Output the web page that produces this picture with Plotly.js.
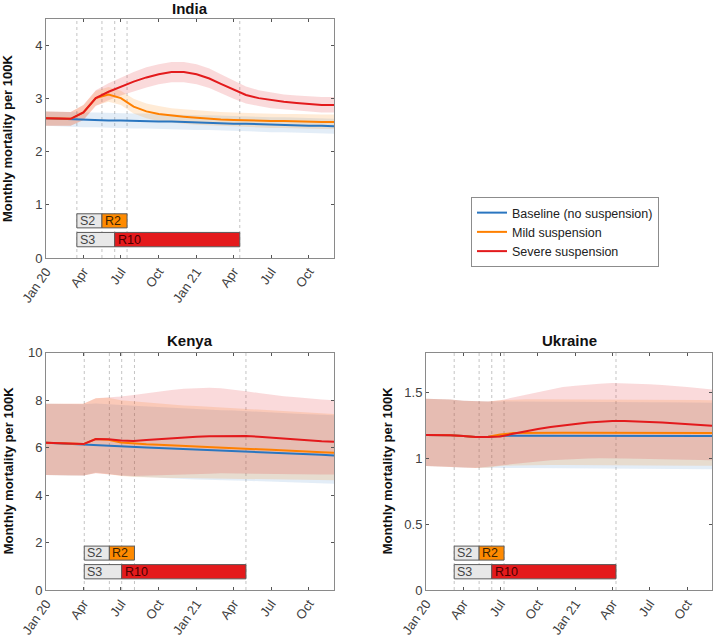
<!DOCTYPE html>
<html><head><meta charset="utf-8">
<script src="https://cdn.plot.ly/plotly-3.0.1.min.js"></script>
<style>html,body{margin:0;padding:0;background:#fff}#chart{width:714px;height:639px}</style>
</head><body><div id="chart"></div>
<script>
// ---------- data ----------
const months = ['2020-01-01','2020-02-01','2020-03-01','2020-04-01','2020-05-01','2020-06-01','2020-07-01','2020-08-01','2020-09-01','2020-10-01','2020-11-01','2020-12-01',
                '2021-01-01','2021-02-01','2021-03-01','2021-04-01','2021-05-01','2021-06-01','2021-07-01','2021-08-01','2021-09-01','2021-10-01','2021-11-01','2021-12-01'];
const tickVals = ['2020-01-01','2020-04-01','2020-07-01','2020-10-01','2021-01-01','2021-04-01','2021-07-01','2021-10-01'];
const tickText = ['Jan 20','Apr','Jul','Oct','Jan 21','Apr','Jul','Oct'];
const seriesNames = ['Baseline (no suspension)','Mild suspension','Severe suspension'];
const countryNames = ['India','Kenya','Ukraine'];

// India
const indiaBaseMean = [2.63,2.62,2.61,2.60,2.60,2.59,2.59,2.58,2.58,2.57,2.57,2.56,2.55,2.55,2.54,2.53,2.53,2.52,2.51,2.51,2.50,2.49,2.49,2.48];
const indiaBaseHi   = [2.76,2.75,2.74,2.74,2.74,2.73,2.73,2.72,2.72,2.71,2.71,2.70,2.69,2.69,2.68,2.67,2.67,2.66,2.65,2.65,2.64,2.63,2.63,2.62];
const indiaBaseLo   = [2.49,2.48,2.47,2.46,2.46,2.45,2.45,2.44,2.44,2.43,2.43,2.42,2.41,2.41,2.40,2.39,2.39,2.38,2.37,2.37,2.36,2.35,2.35,2.34];
const indiaMildMean = [2.63,2.63,2.62,2.74,3.01,3.08,3.01,2.85,2.76,2.71,2.68,2.66,2.64,2.62,2.61,2.60,2.59,2.59,2.58,2.58,2.57,2.57,2.56,2.56];
const indiaMildHi   = [2.76,2.76,2.75,2.88,3.15,3.22,3.15,3.00,2.91,2.86,2.82,2.80,2.78,2.76,2.75,2.74,2.73,2.72,2.72,2.71,2.71,2.70,2.70,2.70];
const indiaMildLo   = [2.49,2.49,2.49,2.60,2.87,2.94,2.88,2.72,2.63,2.58,2.55,2.53,2.51,2.49,2.48,2.47,2.46,2.46,2.45,2.45,2.44,2.44,2.43,2.43];
const indiaSevMean  = [2.63,2.63,2.62,2.74,3.01,3.13,3.23,3.32,3.40,3.46,3.50,3.50,3.46,3.38,3.28,3.17,3.07,3.01,2.97,2.94,2.92,2.90,2.88,2.88];
const indiaSevHi    = [2.76,2.76,2.75,2.88,3.16,3.29,3.40,3.50,3.59,3.65,3.69,3.69,3.65,3.57,3.46,3.34,3.23,3.16,3.12,3.08,3.06,3.04,3.03,3.03];
const indiaSevLo    = [2.49,2.49,2.49,2.60,2.86,2.97,3.06,3.14,3.21,3.27,3.31,3.31,3.27,3.20,3.10,3.00,2.91,2.86,2.82,2.80,2.78,2.76,2.74,2.74];
const indiaPeriods  = ['2020-03-16','2020-05-16','2020-06-16','2020-07-16','2021-04-16'];

// Kenya
const kenyaBaseMean = [6.20,6.18,6.16,6.14,6.12,6.10,6.07,6.04,6.01,5.98,5.96,5.93,5.90,5.88,5.86,5.84,5.82,5.80,5.78,5.76,5.74,5.72,5.70,5.67];
const kenyaBaseHi   = [7.85,7.84,7.83,7.83,7.86,7.84,7.80,7.76,7.73,7.70,7.67,7.64,7.62,7.60,7.58,7.56,7.53,7.51,7.48,7.46,7.43,7.41,7.38,7.36];
const kenyaBaseLo   = [4.85,4.84,4.83,4.83,4.95,4.90,4.82,4.78,4.75,4.72,4.70,4.68,4.66,4.64,4.62,4.61,4.60,4.58,4.56,4.55,4.54,4.52,4.50,4.48];
const kenyaMildMean = [6.20,6.18,6.16,6.15,6.36,6.33,6.22,6.17,6.14,6.12,6.10,6.07,6.05,6.03,6.00,5.98,5.96,5.93,5.91,5.89,5.87,5.84,5.81,5.78];
const kenyaMildHi   = [7.85,7.84,7.83,7.85,8.08,8.10,8.00,7.95,7.90,7.86,7.82,7.78,7.75,7.72,7.68,7.65,7.62,7.59,7.56,7.53,7.50,7.47,7.44,7.42];
const kenyaMildLo   = [4.85,4.84,4.83,4.83,4.93,4.88,4.80,4.76,4.74,4.73,4.72,4.72,4.72,4.71,4.71,4.70,4.69,4.68,4.67,4.66,4.65,4.64,4.63,4.62];
const kenyaSevMean  = [6.20,6.18,6.16,6.15,6.36,6.35,6.30,6.28,6.32,6.36,6.40,6.43,6.46,6.48,6.49,6.50,6.49,6.46,6.42,6.38,6.34,6.30,6.27,6.25];
const kenyaSevHi    = [7.85,7.84,7.83,7.85,8.08,8.10,8.15,8.22,8.30,8.37,8.43,8.48,8.51,8.52,8.50,8.45,8.38,8.30,8.23,8.17,8.12,8.07,8.03,8.00];
const kenyaSevLo    = [4.85,4.84,4.83,4.82,4.92,4.88,4.82,4.80,4.80,4.82,4.84,4.86,4.88,4.90,4.92,4.93,4.93,4.92,4.91,4.90,4.89,4.88,4.87,4.87];
const kenyaPeriods  = ['2020-04-03','2020-06-03','2020-07-03','2020-08-03','2021-05-01'];

// Ukraine
const ukrBaseMean = [1.175,1.175,1.173,1.168,1.160,1.163,1.170,1.170,1.170,1.170,1.170,1.170,1.170,1.170,1.170,1.170,1.170,1.170,1.170,1.170,1.169,1.169,1.169,1.168];
const ukrBaseHi   = [1.450,1.450,1.445,1.435,1.430,1.430,1.430,1.430,1.430,1.430,1.430,1.430,1.430,1.430,1.430,1.428,1.427,1.426,1.425,1.424,1.423,1.422,1.421,1.420];
const ukrBaseLo   = [0.940,0.940,0.935,0.930,0.925,0.925,0.925,0.925,0.925,0.925,0.925,0.925,0.925,0.924,0.924,0.923,0.922,0.921,0.920,0.919,0.918,0.917,0.916,0.915];
const ukrMildMean = [1.175,1.175,1.173,1.168,1.160,1.162,1.180,1.190,1.192,1.193,1.193,1.193,1.193,1.193,1.193,1.193,1.193,1.193,1.193,1.192,1.192,1.192,1.191,1.191];
const ukrMildHi   = [1.450,1.450,1.445,1.435,1.430,1.430,1.440,1.445,1.446,1.447,1.447,1.447,1.447,1.447,1.447,1.447,1.446,1.446,1.445,1.445,1.444,1.443,1.442,1.440];
const ukrMildLo   = [0.940,0.940,0.935,0.930,0.925,0.928,0.940,0.945,0.947,0.948,0.948,0.948,0.948,0.948,0.948,0.948,0.947,0.947,0.946,0.946,0.945,0.944,0.943,0.942];
const ukrSevMean  = [1.175,1.175,1.173,1.168,1.160,1.160,1.165,1.185,1.205,1.222,1.237,1.250,1.260,1.270,1.277,1.282,1.282,1.280,1.275,1.270,1.265,1.258,1.250,1.245];
const ukrSevHi    = [1.450,1.450,1.445,1.435,1.430,1.430,1.440,1.460,1.480,1.500,1.520,1.540,1.550,1.560,1.565,1.570,1.568,1.565,1.560,1.555,1.550,1.540,1.530,1.520];
const ukrSevLo    = [0.940,0.940,0.935,0.930,0.925,0.930,0.940,0.955,0.965,0.975,0.985,0.990,0.995,0.998,1.000,1.000,0.998,0.996,0.994,0.992,0.990,0.988,0.986,0.985];
const ukrPeriods  = ['2020-03-10','2020-05-10','2020-06-10','2020-07-10','2021-04-10'];

const yTickVals = [[0,1,2,3,4],[0,2,4,6,8,10],[0,0.5,1,1.5]];
const yTickText = [['0','1','2','3','4'],['0','2','4','6','8','10'],['0','0.5','1','1.5']];
const yRanges = [[0,4.5],[0,10],[0,1.8]];

// ---------- styling ----------
const W = 714, H = 639;
const fx = p => p / W, fy = p => 1 - p / H;
const lineColors = ['#2a76c0','#ff8000','#e31a1c'];
const bandColors = ['rgba(42,118,192,0.13)','rgba(255,128,0,0.16)','rgba(227,26,28,0.16)'];
const panels = [
  {xd:[46,334], yd:[19,258], title:[190,9], ytl:7.5,
   data:[[indiaBaseMean,indiaBaseLo,indiaBaseHi],[indiaMildMean,indiaMildLo,indiaMildHi],[indiaSevMean,indiaSevLo,indiaSevHi]], periods:indiaPeriods},
  {xd:[46,334], yd:[352.7,590], title:[190,340], ytl:8,
   data:[[kenyaBaseMean,kenyaBaseLo,kenyaBaseHi],[kenyaMildMean,kenyaMildLo,kenyaMildHi],[kenyaSevMean,kenyaSevLo,kenyaSevHi]], periods:kenyaPeriods},
  {xd:[426,712], yd:[352.7,590], title:[569,340], ytl:387,
   data:[[ukrBaseMean,ukrBaseLo,ukrBaseHi],[ukrMildMean,ukrMildLo,ukrMildHi],[ukrSevMean,ukrSevLo,ukrSevHi]], periods:ukrPeriods}
];

const traces = [], shapes = [], annotations = [];
const layout = {
  width: W, height: H, margin:{l:0,r:0,t:0,b:0},
  paper_bgcolor:'#fff', plot_bgcolor:'#fff',
  font:{family:'Liberation Sans, Arial, sans-serif', color:'#404040', size:13},
  showlegend:true,
  legend:{x:fx(471), y:fy(197), xanchor:'left', yanchor:'top', bordercolor:'#8c8c8c', borderwidth:1,
          bgcolor:'#fff', font:{size:12.5,color:'#222'}, itemwidth:30, tracegroupgap:0},
  shapes, annotations
};

panels.forEach((p, i) => {
  const sfx = i === 0 ? '' : String(i + 1);
  const xa = 'x' + sfx, ya = 'y' + sfx;
  layout['xaxis' + sfx] = {
    domain:[fx(p.xd[0]), fx(p.xd[1])], anchor: ya, type:'date',
    range:['2020-01-01','2021-12-01'], tickvals:tickVals, ticktext:tickText, tickangle:-55,
    ticks:'inside', ticklen:3, tickcolor:'#555', showline:true, linecolor:'#8a8a8a', linewidth:1, mirror:'ticks',
    showgrid:false, zeroline:false, tickfont:{size:13,color:'#404040'}
  };
  layout['yaxis' + sfx] = {
    domain:[fy(p.yd[1]), fy(p.yd[0])], anchor: xa, range:yRanges[i],
    tickvals:yTickVals[i], ticktext:yTickText[i],
    ticks:'inside', ticklen:3, tickcolor:'#555', showline:true, linecolor:'#8a8a8a', linewidth:1, mirror:'ticks',
    showgrid:false, zeroline:false, tickfont:{size:13,color:'#404040'}
  };
  // bands
  p.data.forEach((s, k) => {
    traces.push({
      x: months.concat(months.slice().reverse()),
      y: s[2].concat(s[1].slice().reverse()),
      xaxis:xa, yaxis:ya, type:'scatter', mode:'lines', fill:'toself',
      fillcolor:bandColors[k], line:{width:0, color:'rgba(0,0,0,0)'},
      hoverinfo:'skip', showlegend:false
    });
  });
  // mean lines
  p.data.forEach((s, k) => {
    traces.push({
      x: months, y: s[0], xaxis:xa, yaxis:ya, type:'scatter', mode:'lines',
      name: seriesNames[k], line:{color:lineColors[k], width:2},
      showlegend: i === 0, legendgroup: 's' + k
    });
  });
  // dotted vertical markers
  p.periods.forEach(d => {
    shapes.push({type:'line', xref:xa, yref:ya + ' domain', x0:d, x1:d, y0:0, y1:1,
                 line:{color:'#c4c4c4', width:1, dash:'dot'}, layer:'below'});
  });
  // suspension / recovery bars
  const pr = p.periods;
  const bars = [
    {x0:pr[0], x1:pr[1], y:[0.126,0.185], fill:'#e8e8e8', label:'S2', tc:'#444'},
    {x0:pr[1], x1:pr[3], y:[0.126,0.185], fill:'#ff8a00', label:'R2', tc:'#3a2200'},
    {x0:pr[0], x1:pr[2], y:[0.047,0.107], fill:'#e8e8e8', label:'S3', tc:'#444'},
    {x0:pr[2], x1:pr[4], y:[0.047,0.107], fill:'#e41a1c', label:'R10', tc:'#4a0000'}
  ];
  bars.forEach(b => {
    shapes.push({type:'rect', xref:xa, yref:ya + ' domain', x0:b.x0, x1:b.x1, y0:b.y[0], y1:b.y[1],
                 fillcolor:b.fill, line:{color:'#5a5a5a', width:1}, layer:'above'});
    annotations.push({xref:xa, yref:ya + ' domain', x:b.x0, y:(b.y[0] + b.y[1]) / 2, xanchor:'left', yanchor:'middle',
                      xshift:1, text:b.label, showarrow:false, font:{size:12.5, color:b.tc}});
  });
  // panel title
  annotations.push({xref:'paper', yref:'paper', x:fx(p.title[0]), y:fy(p.title[1]), xanchor:'center', yanchor:'middle',
                    text:'<b>' + countryNames[i] + '</b>', showarrow:false, font:{size:15, color:'#111'}});
  // y axis title
  annotations.push({xref:'paper', yref:'paper', x:fx(p.ytl), y:fy((p.yd[0] + p.yd[1]) / 2), xanchor:'center', yanchor:'middle',
                    textangle:-90, text:'<b>Monthly mortality per 100K</b>', showarrow:false, font:{size:13, color:'#111'}});
});

Plotly.newPlot('chart', traces, layout, {displayModeBar:false, staticPlot:true});
</script>
</body></html>
